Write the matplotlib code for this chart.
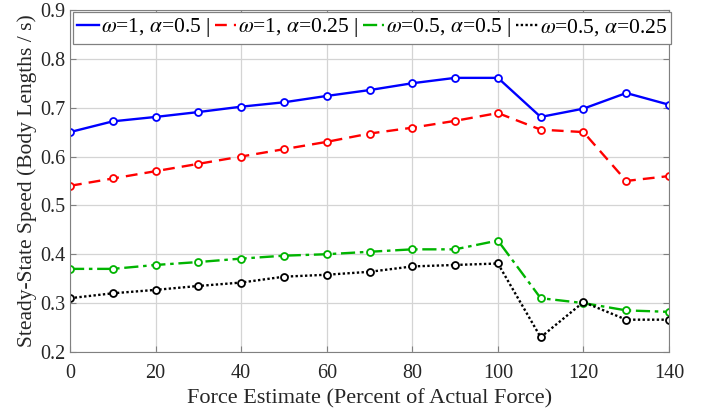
import matplotlib
matplotlib.use('Agg')
import matplotlib.pyplot as plt

plt.rcParams['font.family'] = ['Liberation Serif', 'DejaVu Serif']
plt.rcParams['mathtext.fontset'] = 'stix'

force = [0, 10, 20, 30, 40, 50, 60, 70, 80, 90, 100, 110, 120, 130, 140]
w1_a05 = [0.650, 0.672, 0.681, 0.691, 0.702, 0.711, 0.724, 0.736, 0.750, 0.761, 0.761, 0.681, 0.698, 0.730, 0.706]
w1_a025 = [0.540, 0.555, 0.570, 0.585, 0.600, 0.615, 0.630, 0.647, 0.659, 0.673, 0.689, 0.655, 0.650, 0.550, 0.560]
w05_a05 = [0.370, 0.370, 0.378, 0.384, 0.391, 0.397, 0.400, 0.405, 0.410, 0.410, 0.428, 0.310, 0.300, 0.285, 0.282]
w05_a025 = [0.310, 0.320, 0.327, 0.335, 0.342, 0.354, 0.358, 0.364, 0.375, 0.378, 0.381, 0.230, 0.302, 0.266, 0.266]

labels = [r'$\omega$=1, $\alpha$=0.5 |', r'$\omega$=1, $\alpha$=0.25 |',
          r'$\omega$=0.5, $\alpha$=0.5 |', r'$\omega$=0.5, $\alpha$=0.25']
series = [w1_a05, w1_a025, w05_a05, w05_a025]
colors = ['#0000ff', '#ff0000', '#00b400', '#000000']
styles = ['-', (0, (5, 3)), (0, (6, 2, 1.5, 2)), (0, (1, 1))]

fig = plt.figure(figsize=(7.1, 4.15), dpi=100)
ax = fig.add_axes([0.0986, 0.152, 0.8437, 0.824])

handles = []
for y, c, ls, lab in zip(series, colors, styles, labels):
    ax.plot(force, y, color=c, linestyle=ls, linewidth=1.7, marker='o',
            markersize=5, markerfacecolor='white', markeredgecolor=c,
            markeredgewidth=1.3)
    h, = ax.plot([], [], color=c, linestyle=ls, linewidth=1.7, label=lab)
    handles.append(h)

ax.set_xlim(0, 140)
ax.set_ylim(0.2, 0.9)
ax.set_xticks(range(0, 141, 20))
ax.set_yticks([0.2, 0.3, 0.4, 0.5, 0.6, 0.7, 0.8, 0.9])
ax.grid(True, color='#d4d4d4', linewidth=0.9)
ax.set_axisbelow(True)
for s in ax.spines.values():
    s.set_color('#808080')
ax.tick_params(direction='in', top=True, right=True, labelsize=14.5,
               color='#808080', labelcolor='#262626', length=4)
ax.tick_params(axis='x', pad=9)
ax.set_xlabel('Force Estimate (Percent of Actual Force)', fontsize=16,
              color='#262626', labelpad=4)
ax.set_ylabel('Steady-State Speed (Body Lengths / s)', fontsize=15.5,
              color='#262626', labelpad=2)

leg = ax.legend(handles=handles, ncol=4, loc='upper left', bbox_to_anchor=(0.005, 0.994),
                fontsize=15.5, handlelength=1.0, handletextpad=0.1, columnspacing=0.2,
                borderpad=0.2, borderaxespad=0, fancybox=False, framealpha=1)
leg.get_frame().set_edgecolor('#808080')
leg.get_frame().set_linewidth(0.9)

fig.savefig('out.png', dpi=100)
